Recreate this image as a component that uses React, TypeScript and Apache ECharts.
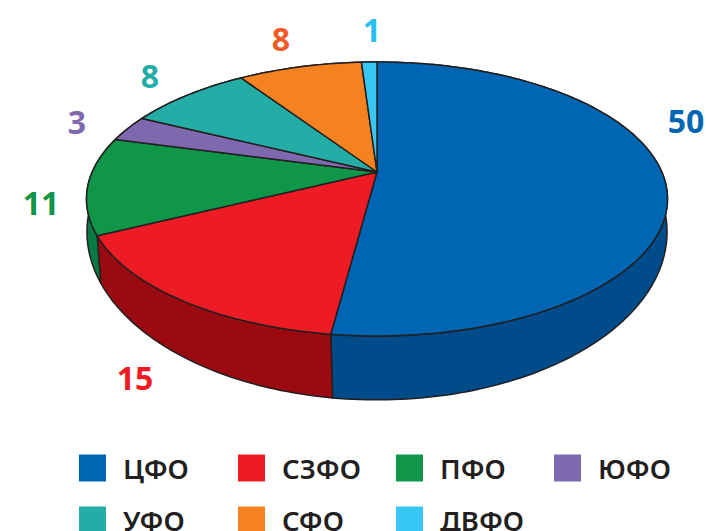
import React, { useEffect, useRef } from "react";
import * as echarts from "echarts";

const REGIONS = ["ЦФО", "СЗФО", "ПФО", "ЮФО", "УФО", "СФО", "ДВФО"];
const VALUES = [50, 15, 11, 3, 8, 8, 1];
const TOP_COLORS = ["#0066b3", "#ed1c24", "#0f9648", "#7e69ae", "#24ada6", "#f58220", "#38c6f4"];
const WALL_COLORS = ["#004b8a", "#9b0a10", "#0a7a45", "#5d4a8a", "#1a8a85", "#c4661a", "#2a9cc4"];
const LABEL_COLORS = ["#0066b3", "#ed1c24", "#0f9648", "#7e69ae", "#24ada6", "#f15a29", "#29c0f0"];

const FONT = '"Noto Sans", sans-serif';
const LINE = "#231f20";
const TOTAL = VALUES.reduce((a, b) => a + b, 0);

// perspective projection of the disc: each rim is an off-centre ellipse
const TOP_RIM = { x: 377, y: 172, b: 284.8, a: 131.7, k: -0.197 };
const BOTTOM_RIM = { x: 377, y: 205, b: 286.3, a: 163.7, k: -0.16 };

function project(rim: typeof TOP_RIM, t: number): number[] {
  const u = Math.sin(t);
  const v = -Math.cos(t);
  const d = 1 + rim.k * v;
  return [rim.x + (rim.b * u) / d, rim.y + (rim.a * v) / d];
}

function arc(rim: typeof TOP_RIM, t0: number, t1: number): number[][] {
  const n = Math.max(4, Math.ceil(Math.abs(t1 - t0) / 0.02));
  const pts: number[][] = [];
  for (let i = 0; i <= n; i++) pts.push(project(rim, t0 + ((t1 - t0) * i) / n));
  return pts;
}

function sliceAngles(i: number): [number, number] {
  const before = VALUES.slice(0, i).reduce((a, b) => a + b, 0);
  return [(before / TOTAL) * Math.PI * 2, ((before + VALUES[i]) / TOTAL) * Math.PI * 2];
}

const LABEL_SPOTS = [
  [686, 120],
  [135, 377],
  [41, 202],
  [77, 121],
  [150, 75],
  [281, 38],
  [372, 29],
];
const LEGEND_SPOTS = [
  [79, 452],
  [238, 452],
  [396, 452],
  [554, 452],
  [79, 504],
  [238, 504],
  [396, 504],
];

export default function App() {
  const ref = useRef<HTMLDivElement>(null);
  useEffect(() => {
    document.body.style.margin = "0";
    const chart = echarts.init(ref.current!, null, { renderer: "svg" });
    const wallSeries = {
      type: "custom",
      coordinateSystem: "none",
      silent: true,
      z: 1,
      data: VALUES.map((v) => [v]),
      renderItem: (params: any) => {
        const i = params.dataIndex;
        const [t0, t1] = sliceAngles(i);
        return {
          type: "polygon",
          shape: { points: [...arc(TOP_RIM, t0, t1), ...arc(BOTTOM_RIM, t1, t0)] },
          style: { fill: WALL_COLORS[i], stroke: LINE, lineWidth: 1.5, lineJoin: "round" },
        };
      },
    };
    const topSeries = REGIONS.map((name, i) => ({
      type: "custom",
      name,
      coordinateSystem: "none",
      silent: true,
      z: 2,
      itemStyle: { color: TOP_COLORS[i] },
      data: [[VALUES[i]]],
      renderItem: () => {
        const [t0, t1] = sliceAngles(i);
        return {
          type: "polygon",
          shape: { points: [[TOP_RIM.x, TOP_RIM.y], ...arc(TOP_RIM, t0, t1)] },
          style: { fill: TOP_COLORS[i], stroke: LINE, lineWidth: 1.5, lineJoin: "round" },
        };
      },
    }));
    chart.setOption({
      animation: false,
      backgroundColor: "#ffffff",
      legend: REGIONS.map((name, i) => ({
        data: [{ name, icon: "rect" }],
        left: LEGEND_SPOTS[i][0],
        top: LEGEND_SPOTS[i][1],
        padding: 0,
        itemWidth: 27,
        itemHeight: 27,
        selectedMode: false,
        textStyle: {
          fontFamily: FONT,
          fontSize: 27.5,
          fontWeight: 600,
          color: LINE,
          lineHeight: 20,
          padding: [0, 0, 12, 12],
        },
      })),
      series: [wallSeries, ...topSeries],
      graphic: VALUES.map((v, i) => ({
        type: "text",
        x: LABEL_SPOTS[i][0],
        y: LABEL_SPOTS[i][1],
        z: 10,
        style: {
          text: String(v),
          fontFamily: FONT,
          fontSize: 32,
          fontWeight: 700,
          fill: LABEL_COLORS[i],
          align: "center",
          verticalAlign: "middle",
        },
      })),
    });
    return () => chart.dispose();
  }, []);
  return <div ref={ref} style={{ width: 706, height: 531 }} />;
}
